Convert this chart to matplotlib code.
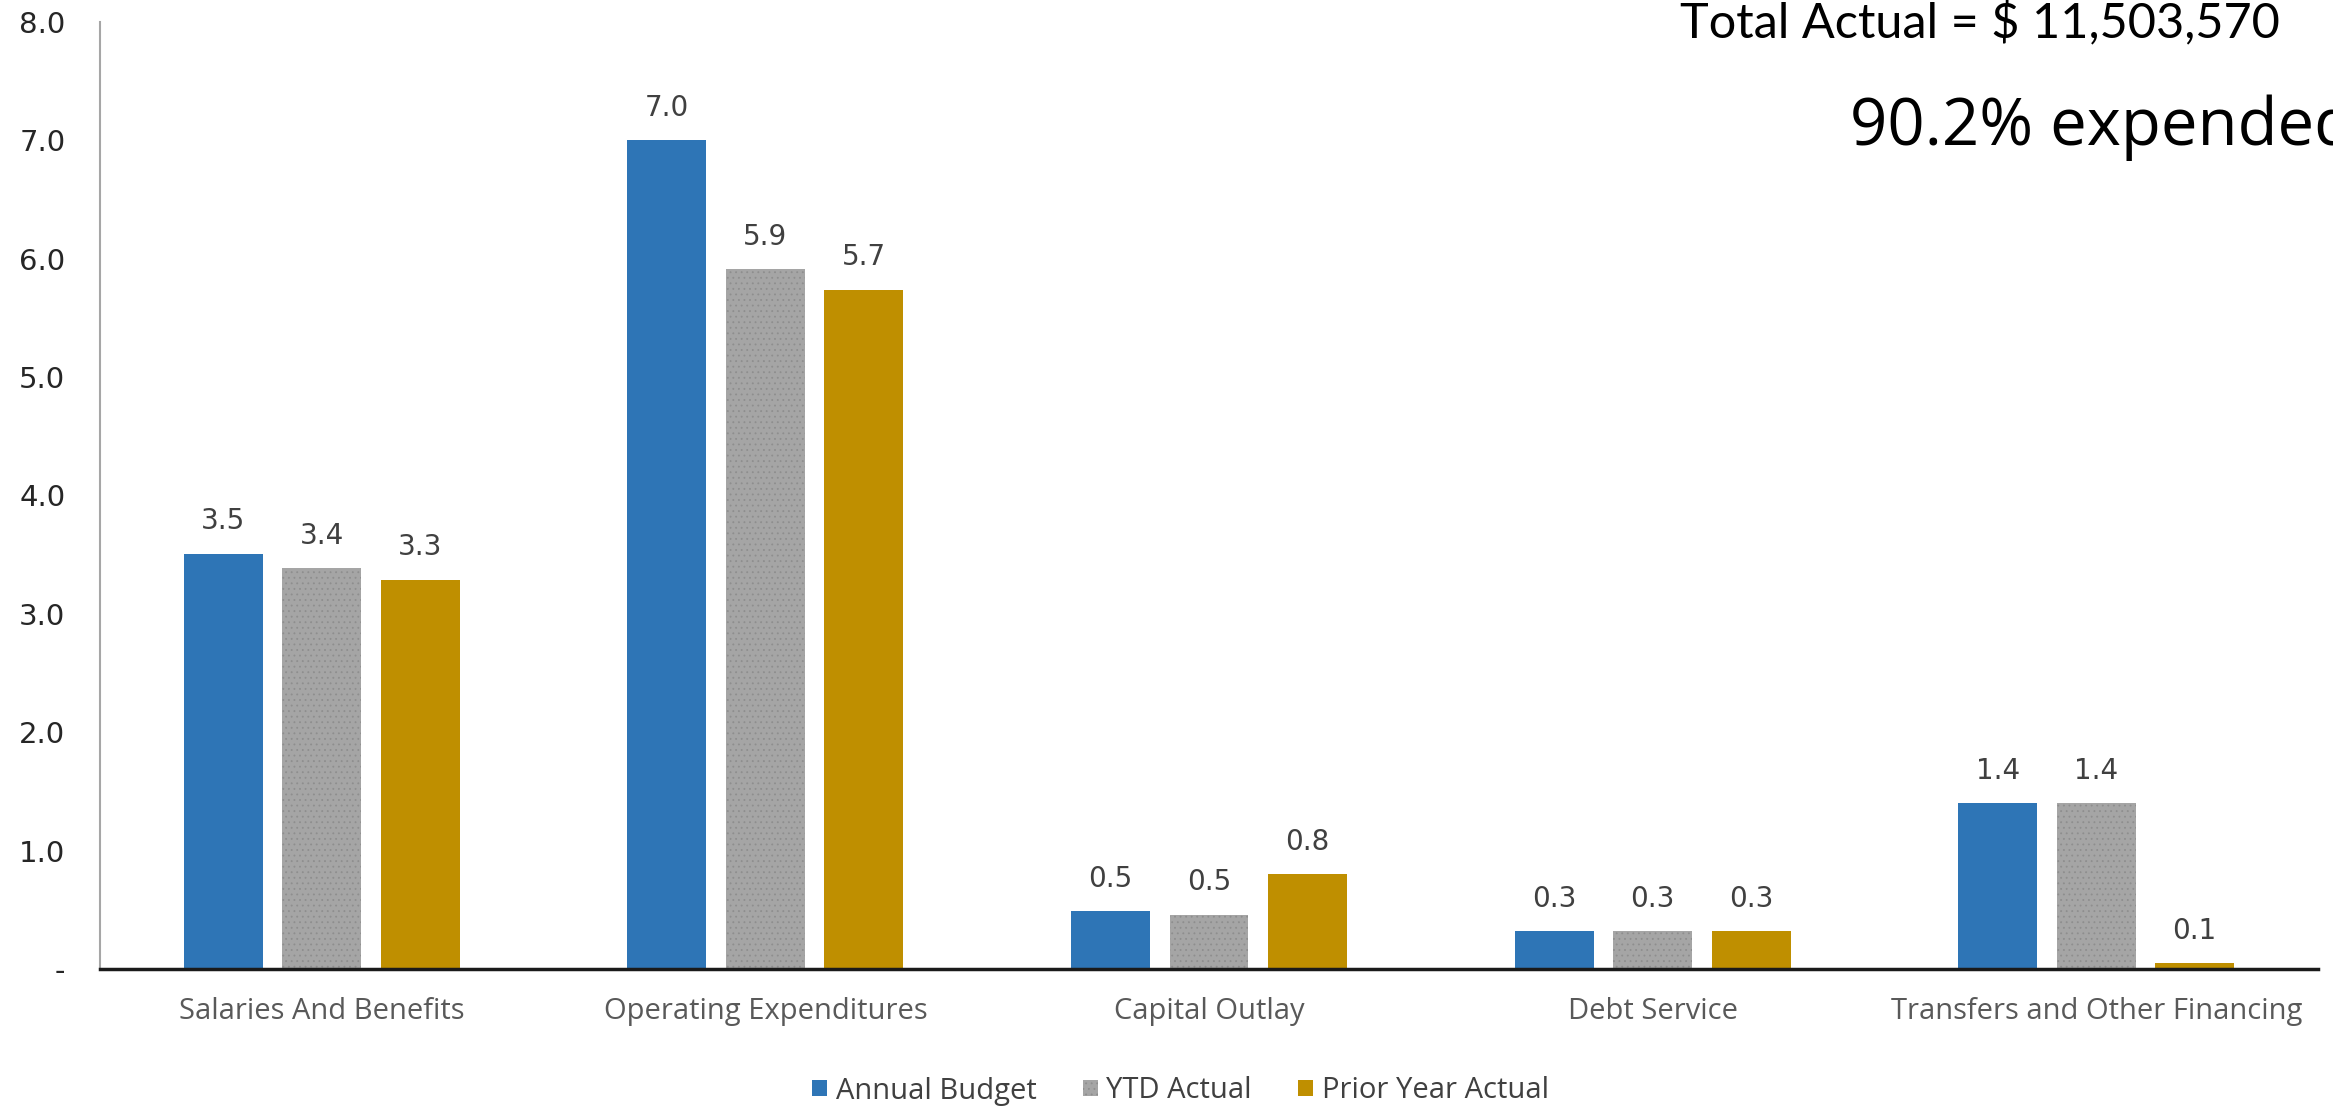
import matplotlib
matplotlib.use("Agg")
import matplotlib.pyplot as plt
import numpy as np

categories = ["Salaries And Benefits", "Operating Expenditures", "Capital Outlay",
              "Debt Service", "Transfers and Other Financing"]
annual_budget = [3.51, 7.0, 0.49, 0.32, 1.40]
ytd_actual = [3.39, 5.91, 0.46, 0.32, 1.40]
prior_year_actual = [3.29, 5.74, 0.80, 0.32, 0.05]
series_names = ["Annual Budget", "YTD Actual", "Prior Year Actual"]
y_ticks = [0, 1, 2, 3, 4, 5, 6, 7, 8]
y_tick_labels = ["-", "1.0", "2.0", "3.0", "4.0", "5.0", "6.0", "7.0", "8.0"]
total_text = "Total Actual = $ 11,503,570"
pct_text = "90.2% expended"

colors = ["#2E75B6", "#A5A5A5", "#BF8F00"]
W, H = 2333, 1107
fig = plt.figure(figsize=(W / 100, H / 100), dpi=100)
ax = fig.add_axes([100 / W, 1 - 969 / H, 2218 / W, 947 / H])

plt.rcParams['hatch.linewidth'] = 0.6
x = np.arange(len(categories))
offsets = [-0.222, 0.0, 0.222]
bw = 0.178
all_series = [annual_budget, ytd_actual, prior_year_actual]
handles = []
for i, (vals, c, name) in enumerate(zip(all_series, colors, series_names)):
    if i == 1:
        bars = ax.bar(x + offsets[i], vals, width=bw, color=c, edgecolor="#8E8E8E",
                      linewidth=0, hatch="...", label=name, zorder=2)
    else:
        bars = ax.bar(x + offsets[i], vals, width=bw, color=c, linewidth=0,
                      label=name, zorder=2)
    handles.append(bars)
    ax.bar_label(bars, labels=[f"{v:.1f}" for v in vals], padding=13,
                 fontsize=20, color="#404040", family="DejaVu Sans")

ax.set_xlim(-0.5, len(categories) - 0.5)
ax.set_ylim(0, 8)
ax.set_yticks(y_ticks)
ax.set_yticklabels(y_tick_labels, fontsize=21, color="#262626", family="DejaVu Sans")
ax.set_xticks(x)
ax.set_xticklabels(categories, fontsize=21, color="#595959", family="Open Sans")
ax.tick_params(axis="y", length=0, pad=25)
ax.tick_params(axis="x", length=0, pad=20)

for s in ["top", "right"]:
    ax.spines[s].set_visible(False)
ax.spines["left"].set_color("#A6A6A6")
ax.spines["left"].set_linewidth(1.5)
ax.spines["bottom"].set_color("#1a1a1a")
ax.spines["bottom"].set_linewidth(2.5)
ax.spines["bottom"].set_zorder(3)

fig.legend(handles=handles, labels=series_names, loc="center",
           bbox_to_anchor=(0.506, 1 - 1091 / H), ncol=3, frameon=False,
           prop={"family": "Open Sans", "size": 21}, labelcolor="#404040",
           handlelength=0.5, handleheight=0.5, handletextpad=0.3,
           columnspacing=1.6)

fig.text(1680 / W, 1 - 37 / H, total_text, fontsize=35, family="Lato",
         weight="normal", color="black", ha="left", va="baseline")
fig.text(1850 / W, 1 - 145 / H, pct_text, fontsize=47, family="Open Sans",
         color="black", ha="left", va="baseline")

fig.savefig("out.png", dpi=100, facecolor="white")
